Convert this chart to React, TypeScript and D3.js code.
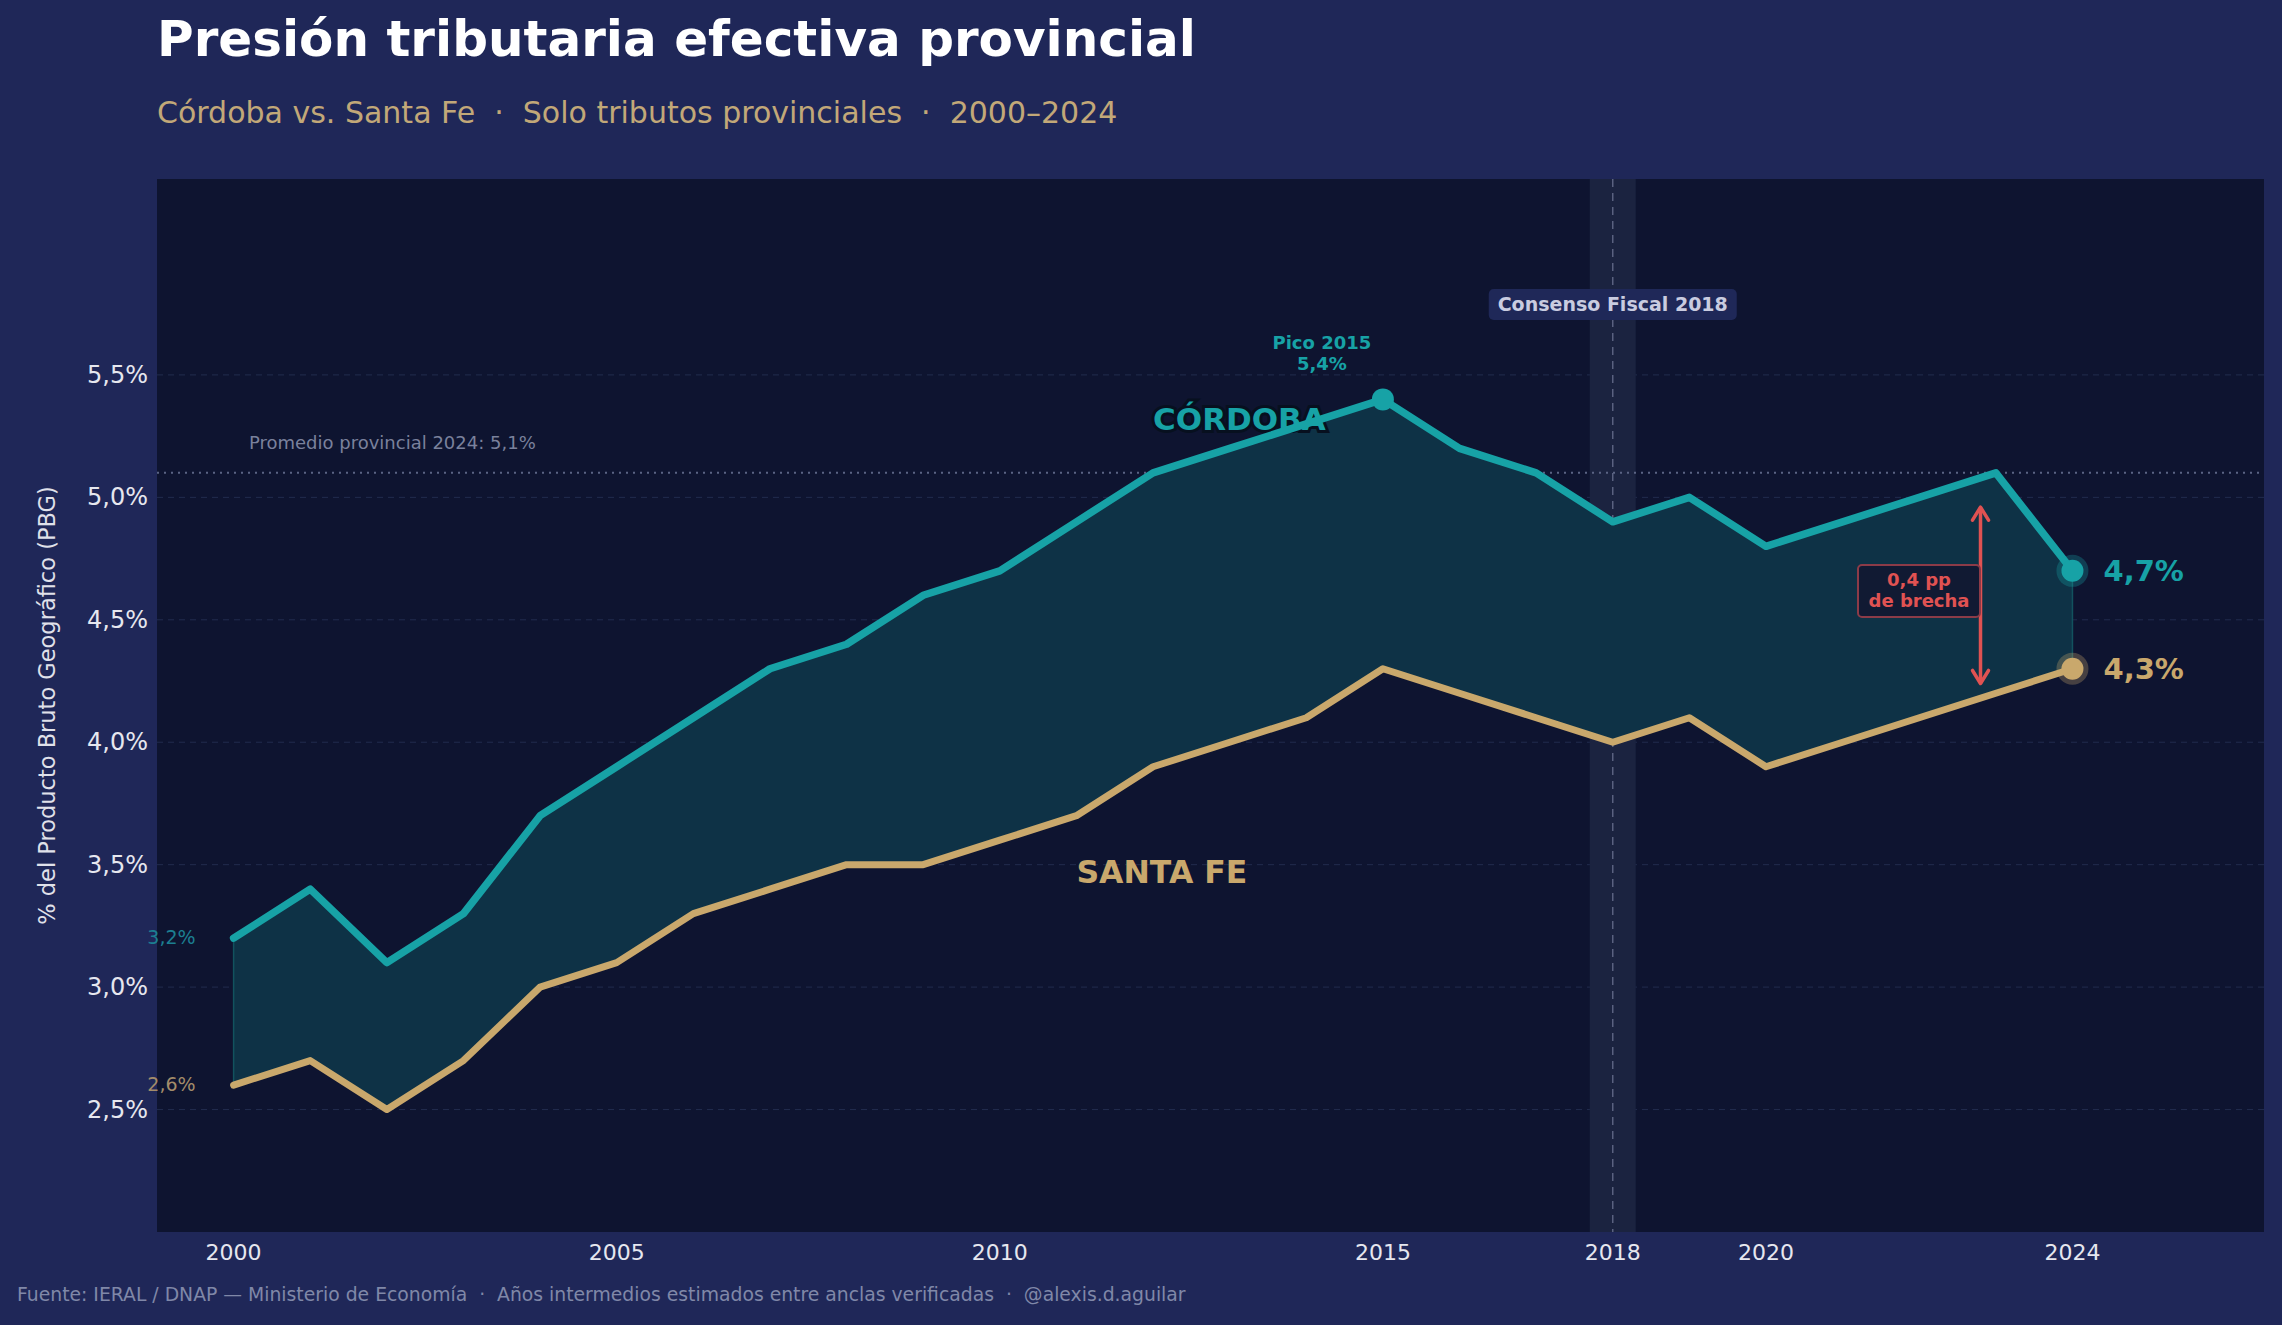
import React from 'react'
import * as d3 from 'd3'

const years = d3.range(2000, 2025)
const cordoba = [3.2, 3.4, 3.1, 3.3, 3.7, 3.9, 4.1, 4.3, 4.4, 4.6, 4.7, 4.9, 5.1, 5.2, 5.3, 5.4, 5.2, 5.1, 4.9, 5.0, 4.8, 4.9, 5.0, 5.1, 4.7]
const santaFe = [2.6, 2.7, 2.5, 2.7, 3.0, 3.1, 3.3, 3.4, 3.5, 3.5, 3.6, 3.7, 3.9, 4.0, 4.1, 4.3, 4.2, 4.1, 4.0, 4.1, 3.9, 4.0, 4.1, 4.2, 4.3]
const yTicks = [2.5, 3.0, 3.5, 4.0, 4.5, 5.0, 5.5]
const xTicks = [2000, 2005, 2010, 2015, 2018, 2020, 2024]
const promedio = 5.1
const consensoYear = 2018
const peakYear = 2015
const gapYear = 2022.8

const W = 2282
const H = 1325
const FONT = 'DejaVu Sans, sans-serif'

const TEAL = '#17a2a6'
const TAN = '#c9a86c'
const RED = '#e05252'

const fmt = (v: number, d = 1) => v.toFixed(d).replace('.', ',') + '%'

const App = () => {
  const left = 157, right = 2264, top = 179, bottom = 1232

  const x = d3.scaleLinear().domain([1999, 2026.5]).range([left, right])
  const y = d3.scaleLinear().domain([2.0, 6.3]).range([bottom, top])

  const rows = years.map((yr, i) => ({ yr, c: cordoba[i], s: santaFe[i] }))

  const lineC = d3.line<any>().x(d => x(d.yr)).y(d => y(d.c))
  const lineS = d3.line<any>().x(d => x(d.yr)).y(d => y(d.s))
  const band = d3.area<any>().x(d => x(d.yr)).y0(d => y(d.s)).y1(d => y(d.c))

  const last = rows[rows.length - 1]
  const peak = rows.find(r => r.yr === peakYear)!

  return (
    <svg width={W} height={H} style={{ position: 'absolute', left: 0, top: 0 }} fontFamily={FONT}>
      <rect width={W} height={H} fill="#1f2758" />
      <rect x={left} y={top} width={right - left} height={bottom - top} fill="#0e1430" />

      {/* grid */}
      {yTicks.map(t => (
        <line key={t} x1={left} x2={right} y1={y(t)} y2={y(t)} stroke="#222c4e" strokeWidth={1} strokeDasharray="6,5" />
      ))}

      {/* consenso fiscal band */}
      <rect x={x(consensoYear - 0.3)} y={top} width={x(consensoYear + 0.3) - x(consensoYear - 0.3)} height={bottom - top} fill="#1b2340" />
      <line x1={x(consensoYear)} x2={x(consensoYear)} y1={top} y2={bottom} stroke="#5a6180" strokeWidth={1.5} strokeDasharray="8,6" />

      {/* promedio */}
      <line x1={left} x2={right} y1={y(promedio)} y2={y(promedio)} stroke="#5b6484" strokeWidth={2} strokeDasharray="2,5" />
      <text x={x(2000.2)} y={y(promedio) - 24} fill="#7a819c" fontSize={18}>Promedio provincial 2024: 5,1%</text>

      {/* fill between */}
      <path d={band(rows)!} fill="#0e3246" stroke="#12525e" strokeWidth={1.5} />

      {/* labels under lines */}
      <text x={x(2012)} y={y(5.3) + 6} fill={TEAL} fontSize={31} fontWeight="bold" stroke="#07101f" strokeWidth={6} paintOrder="stroke">CÓRDOBA</text>
      <text x={x(2011)} y={y(3.45) + 6} fill={TAN} fontSize={31.5} fontWeight="bold">SANTA FE</text>

      <path d={lineS(rows)!} fill="none" stroke={TAN} strokeWidth={7} strokeLinejoin="round" strokeLinecap="round" />
      <path d={lineC(rows)!} fill="none" stroke={TEAL} strokeWidth={7.5} strokeLinejoin="round" strokeLinecap="round" />

      {/* start labels */}
      <text x={x(2000) - 38} y={y(cordoba[0]) + 6} fill="#1c7f91" fontSize={19} textAnchor="end">{fmt(cordoba[0])}</text>
      <text x={x(2000) - 38} y={y(santaFe[0]) + 6} fill="#a38c6a" fontSize={19} textAnchor="end">{fmt(santaFe[0])}</text>

      {/* peak */}
      <circle cx={x(peak.yr)} cy={y(peak.c)} r={11} fill={TEAL} />
      <text x={x(peak.yr) - 61} y={y(peak.c) - 50} fill={TEAL} fontSize={18} fontWeight="bold" textAnchor="middle">Pico 2015</text>
      <text x={x(peak.yr) - 61} y={y(peak.c) - 29} fill={TEAL} fontSize={18} fontWeight="bold" textAnchor="middle">{fmt(peak.c)}</text>

      {/* consenso label */}
      <rect x={x(consensoYear) - 124} y={y(6.3) + 110} width={248} height={31} rx={5} fill="#1f2858" />
      <text x={x(consensoYear)} y={y(6.3) + 132} fill="#c9cce0" fontSize={19} fontWeight="bold" textAnchor="middle">Consenso Fiscal 2018</text>

      {/* end markers */}
      <circle cx={x(last.yr)} cy={y(last.c)} r={16} fill={TEAL} opacity={0.3} />
      <circle cx={x(last.yr)} cy={y(last.c)} r={11} fill={TEAL} />
      <circle cx={x(last.yr)} cy={y(last.s)} r={16} fill={TAN} opacity={0.3} />
      <circle cx={x(last.yr)} cy={y(last.s)} r={11} fill={TAN} />
      <text x={x(last.yr) + 31} y={y(last.c) + 10} fill={TEAL} fontSize={29} fontWeight="bold">{fmt(last.c)}</text>
      <text x={x(last.yr) + 31} y={y(last.s) + 10} fill={TAN} fontSize={29} fontWeight="bold">{fmt(last.s)}</text>

      {/* gap arrow */}
      <line x1={x(gapYear)} x2={x(gapYear)} y1={y(4.96)} y2={y(4.24)} stroke={RED} strokeWidth={3.5} />
      <path d={`M${x(gapYear) - 8},${y(4.96) + 13} L${x(gapYear)},${y(4.96)} L${x(gapYear) + 8},${y(4.96) + 13}`} fill="none" stroke={RED} strokeWidth={3.5} strokeLinecap="round" strokeLinejoin="round" />
      <path d={`M${x(gapYear) - 8},${y(4.24) - 13} L${x(gapYear)},${y(4.24)} L${x(gapYear) + 8},${y(4.24) - 13}`} fill="none" stroke={RED} strokeWidth={3.5} strokeLinecap="round" strokeLinejoin="round" />
      <rect x={1858} y={565} width={122} height={52} rx={4} fill="#111a33" stroke="#8c3b48" strokeWidth={2} />
      <text x={1919} y={586} fill={RED} fontSize={18} fontWeight="bold" textAnchor="middle">0,4 pp</text>
      <text x={1919} y={607} fill={RED} fontSize={18} fontWeight="bold" textAnchor="middle">de brecha</text>

      {/* axes */}
      {yTicks.map(t => (
        <text key={t} x={left - 9} y={y(t) + 8} fill="#e6e7ef" fontSize={24} textAnchor="end">{fmt(t)}</text>
      ))}
      {xTicks.map(t => (
        <text key={t} x={x(t)} y={bottom + 28} fill="#e6e7ef" fontSize={22} textAnchor="middle">{t}</text>
      ))}
      <text transform={`translate(55, ${(top + bottom) / 2}) rotate(-90)`} fill="#e0e1ea" fontSize={22.5} textAnchor="middle">% del Producto Bruto Geográfico (PBG)</text>

      {/* titles */}
      <text x={157} y={56} fill="#ffffff" fontSize={50} fontWeight="bold">Presión tributaria efectiva provincial</text>
      <text x={157} y={123} fill="#c2a878" fontSize={30} style={{ whiteSpace: 'pre' }}>Córdoba vs. Santa Fe  ·  Solo tributos provinciales  ·  2000–2024</text>
      <text x={17} y={1301} fill="#8088a8" fontSize={18.8} style={{ whiteSpace: 'pre' }}>Fuente: IERAL / DNAP — Ministerio de Economía  ·  Años intermedios estimados entre anclas verificadas  ·  @alexis.d.aguilar</text>
    </svg>
  )
}

export default App
